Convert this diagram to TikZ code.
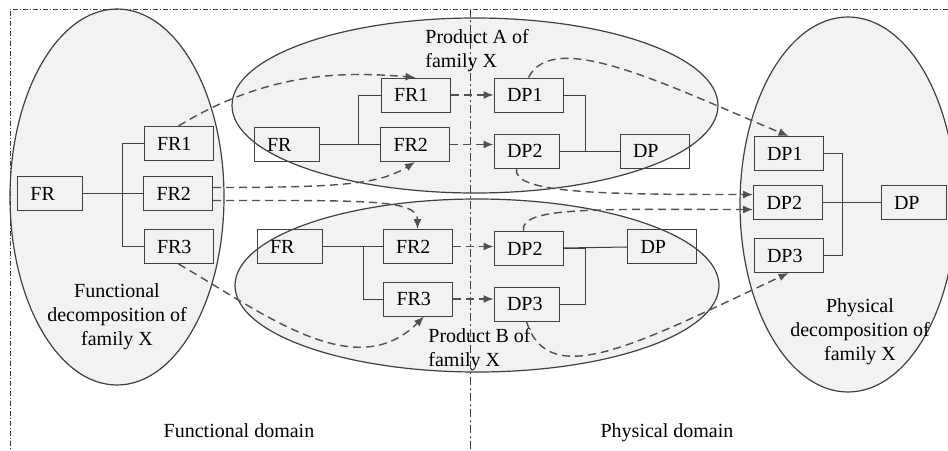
\documentclass[tikz,border=0pt]{standalone}
\usepackage{fontspec}
\setmainfont{Liberation Serif}
\usetikzlibrary{arrows.meta}
\definecolor{blobfill}{RGB}{242,242,242}
\definecolor{edgegray}{RGB}{64,64,64}
\definecolor{dashgray}{RGB}{80,80,80}
\tikzstyle{blob} = [fill=blobfill, draw=edgegray, line width=0.6pt]
\tikzstyle{block} = [rectangle, draw=edgegray, line width=0.5pt,
                     minimum height=17pt, inner xsep=6.5pt, inner ysep=2pt,
                     text width=21.5pt, align=left]
\tikzstyle{narrow} = [text width=19.5pt]
\tikzstyle{link} = [draw=edgegray, line width=0.5pt]
\tikzstyle{flow} = [draw=dashgray, line width=0.7pt, dash pattern=on 4pt off 2.5pt,
                    -{Latex[length=5pt,width=4pt]}]
\tikzstyle{border} = [draw=edgegray, line width=0.5pt,
                      dash pattern=on 2.5pt off 1pt on 0.5pt off 1pt]
\begin{document}
\begin{tikzpicture}[x=0.5pt, y=-0.5pt]

        \useasboundingbox (0,0) rectangle (948,450);

        \filldraw [blob] (117,197) ellipse [x radius=53.5pt, y radius=94pt];
        \filldraw [blob] (475,105.5) ellipse [x radius=121.5pt, y radius=43.75pt];
        \filldraw [blob] (477,285.5) ellipse [x radius=121pt, y radius=43.25pt];
        \filldraw [blob] (848,204.5) ellipse [x radius=54pt, y radius=93.75pt];

        \draw [border] (948,9) -- (10,9) -- (10,450);
        \draw [border, dash pattern=on 4pt off 1.5pt on 1pt off 1.5pt] (470,9) -- (470,450);

        \node (FRl) [block, narrow] at (50,193.5) {FR};
        \node (FR1l) [block] at (178.5,143.5) {FR1};
        \node (FR2l) [block] at (178,193.5) {FR2};
        \node (FR3l) [block] at (178.5,246.5) {FR3};

        \node (FRa) [block, narrow] at (286.5,144.5) {FR};
        \node (FR1a) [block] at (415.5,95) {FR1};
        \node (FR2a) [block] at (415,144.5) {FR2};
        \node (DP1a) [block] at (528.5,95) {DP1};
        \node (DP2a) [block, narrow] at (526.5,151) {DP2};
        \node (DPa) [block] at (654.5,151) {DP};

        \node (FRb) [block, narrow] at (289.5,246.5) {FR};
        \node (FR2b) [block] at (417.5,246.5) {FR2};
        \node (FR3b) [block] at (418,299) {FR3};
        \node (DP2b) [block] at (528.5,248.5) {DP2};
        \node (DPb) [block] at (662,246.5) {DP};
        \node (DP3b) [block, narrow] at (526.5,304) {DP3};

        \node (DP1r) [block] at (788.5,153.5) {DP1};
        \node (DP2r) [block] at (788,202.5) {DP2};
        \node (DP3r) [block] at (788.5,255.5) {DP3};
        \node (DPr) [block, narrow] at (913.5,202.5) {DP};

        \node (fdlabel) [anchor=north, align=center, inner sep=0pt] at (117,283) {Functional\\decomposition of\\family X};
        \node (palabel) [anchor=north west, align=left, inner sep=0pt] at (425,29) {Product A of\\family X};
        \node (pblabel) [anchor=north west, align=left, inner sep=0pt] at (428,328) {Product B of\\family X};
        \node (pdlabel) [anchor=north, align=center, inner sep=0pt] at (860,298) {Physical\\decomposition of\\family X};
        \node (fdomain) [anchor=base] at (239,437) {Functional domain};
        \node (pdomain) [anchor=base] at (667,437) {Physical domain};

        \draw [link] (FRl) -- (FR2l);
        \draw [link] (FR1l.west) -- ++(-21,0) |- (FR3l.west);

        \draw [link] (FRa) -- (FR2a);
        \draw [link] (FR1a.west) -- ++(-22,0) |- (FR2a.west);
        \draw [link] (DP2a) -- (DPa);
        \draw [link] (DP1a.east) -- ++(22,0) |- (DP2a.east);

        \draw [link] (FRb) -- (FR2b);
        \draw [link] (FR2b.west) -- ++(-19,0) |- (FR3b.west);
        \draw [link] (DP2b) -- (DPb);
        \draw [link] (DP2b.east) -- ++(22,0) |- (DP3b.east);

        \draw [link] (DP2r) -- (DPr);
        \draw [link] (DP1r.east) -- ++(19,0) |- (DP3r.east);

        \draw [flow] (FR1a) -- (DP1a);
        \draw [flow] (FR2a.east) -- (FR2a.east -| DP2a.west);
        \draw [flow] (FR2b.east) -- (FR2b.east -| DP2b.west);
        \draw [flow] (FR3b.east) -- (FR3b.east -| DP3b.west);

        \draw [flow] (FR1l.north) .. controls +(90,-55) and +(-70,-6) .. (FR1a.north);
        \draw [flow] ([yshift=3pt]FR2l.east) .. controls +(130,0) and +(-35,22) .. (FR2a.south);
        \draw [flow] ([yshift=-3.5pt]FR2l.east) .. controls +(150,0) and +(0,-30) .. (FR2b.north);
        \draw [flow] (FR3l.south) .. controls +(85,49) and +(-69,69) .. ([xshift=3pt]FR3b.south);

        \draw [flow] (DP1a.north) .. controls +(25,-50) and +(-120,-50) .. (DP1r.north);
        \draw [flow] ([xshift=-5pt]DP2a.south) .. controls +(-5,25) and +(-150,0) .. ([yshift=4pt]DP2r.west);
        \draw [flow] ([xshift=-2.5pt]DP2b.north) .. controls +(-5,-25) and +(-150,0) .. ([yshift=-3.5pt]DP2r.west);
        \draw [flow] (DP3b.south) .. controls +(22,71) and +(-150,70) .. (DP3r.south);

\end{tikzpicture}
\end{document}
